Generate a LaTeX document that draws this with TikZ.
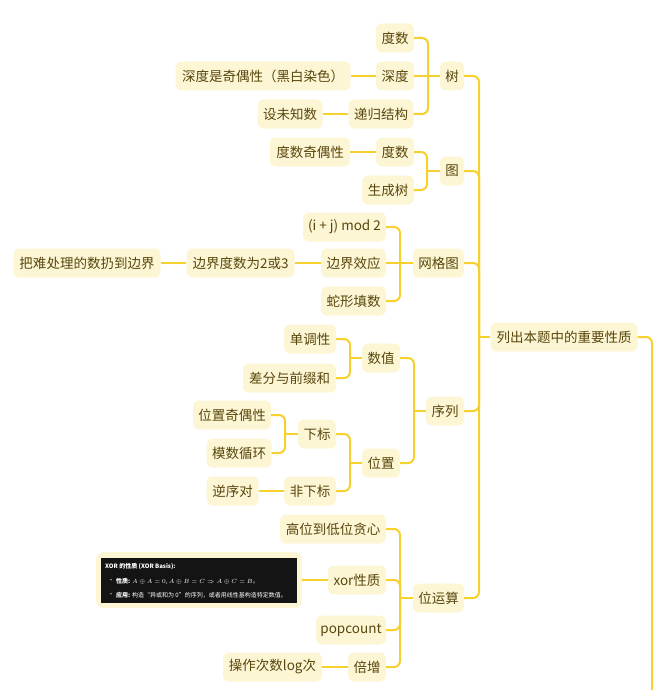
\documentclass[tikz,border=0pt]{standalone}
\usepackage{fontspec}
\setmainfont{Noto Sans CJK SC}
\definecolor{nodefill}{RGB}{253,246,213}
\definecolor{linec}{RGB}{246,208,44}
\definecolor{txt}{RGB}{88,70,12}
\definecolor{darkbg}{RGB}{20,20,20}
\tikzset{
  box/.style={fill=nodefill, rounded corners=6pt, text=txt, font=\fontsize{13.5}{16}\selectfont, minimum height=29pt, inner sep=0pt},
  conn/.style={draw=linec, line width=2pt, rounded corners=6pt},
  tiny/.style={text=white, font=\fontsize{6}{7}\selectfont, inner sep=0pt, anchor=west}
}
\begin{document}
\begin{tikzpicture}[x=1pt,y=-1pt]
\useasboundingbox (0,0) rectangle (668,690);
\clip (0,0) rectangle (668,690);
% root
\node[box, minimum width=147pt] (root) at (564,337) {列出本题中的重要性质};
% tree
\node[box, minimum width=24pt] (tr) at (452,76) {树};
\node[box, minimum width=38pt] (t1) at (395,38) {度数};
\node[box, minimum width=38pt] (t2) at (395,76) {深度};
\node[box, minimum width=175pt] (t2a) at (263,76) {深度是奇偶性（黑白染色）};
\node[box, minimum width=65pt] (t3) at (381,114) {递归结构};
\node[box, minimum width=65pt] (t3a) at (290,114) {设未知数};
% graph
\node[box, minimum width=24pt] (gr) at (452,171) {图};
\node[box, minimum width=38pt] (g1) at (395,152) {度数};
\node[box, minimum width=80pt] (g1a) at (310,152) {度数奇偶性};
\node[box, minimum width=52pt] (g2) at (388,190) {生成树};
% grid
\node[box, minimum width=51pt] (ng) at (438.5,263) {网格图};
\node[box, minimum width=83pt] (n1) at (344.5,227) {(i + j) mod 2};
\node[box, minimum width=65pt] (n2) at (353.5,263) {边界效应};
\node[box, minimum width=108pt] (n2a) at (240.6,263) {边界度数为2或3};
\node[box, minimum width=147pt] (n2b) at (87,263) {把难处理的数扔到边界};
\node[box, minimum width=65pt] (n3) at (353.5,301) {蛇形填数};
% sequence
\node[box, minimum width=38pt] (xl) at (445,411) {序列};
\node[box, minimum width=38pt] (s1) at (381,358) {数值};
\node[box, minimum width=52pt] (s1a) at (310,339) {单调性};
\node[box, minimum width=93pt] (s1b) at (289.5,378) {差分与前缀和};
\node[box, minimum width=38pt] (s2) at (381,463) {位置};
\node[box, minimum width=38pt] (s2a) at (317,434) {下标};
\node[box, minimum width=78pt] (s2a1) at (232,415) {位置奇偶性};
\node[box, minimum width=65pt] (s2a2) at (239,453) {模数循环};
\node[box, minimum width=52pt] (s2b) at (310,491) {非下标};
\node[box, minimum width=52pt] (s2b1) at (232.5,491) {逆序对};
% bit ops
\node[box, minimum width=51pt] (bw) at (438.5,598) {位运算};
\node[box, minimum width=106pt] (b1) at (333,529) {高位到低位贪心};
\node[box, minimum width=58pt] (b2) at (357,580) {xor性质};
\node[box, minimum width=70pt] (b3) at (351,630) {popcount};
\node[box, minimum width=38pt] (b4) at (367,667) {倍增};
\node[box, minimum width=99pt] (b4a) at (272.5,667) {操作次数log次};
\node[box, minimum width=206pt, minimum height=56pt, rounded corners=8pt] (img) at (199,580) {};
\fill[darkbg] (101,558) rectangle (297,603);
\node[tiny, font=\bfseries\fontsize{6}{7}\selectfont] (imt) at (105,567) {XOR 的性质 (XOR Basis):};
\node[tiny] (imb1) at (108,581) {•};
\node[tiny] (iml1) at (116,581) {\textbf{性质:} $A\oplus A=0$, $A\oplus B=C\Rightarrow A\oplus C=B$。};
\node[tiny] (imb2) at (108,595) {•};
\node[tiny] (iml2) at (116,595) {\textbf{应用:} 构造“异或和为 0”的序列，或者用线性基构造特定数值。};
% connectors: root
\draw[conn] (root.west) -- (479,337);
\draw[conn] (tr.east) -| (479,337);
\draw[conn] (gr.east) -| (479,337);
\draw[conn] (ng.east) -| (479,337);
\draw[conn] (xl.east) -| (479,337);
\draw[conn] (bw.east) -| (479,337);
\draw[conn] (root.east) -| (652,720);
% tree
\draw[conn] (tr.west) -- (t2.east);
\draw[conn] (t1.east) -| (428,76);
\draw[conn] (t3.east) -| (428,76);
\draw[conn] (t2.west) -- (t2a.east);
\draw[conn] (t3.west) -- (t3a.east);
% graph
\draw[conn] (gr.west) -- (427,171);
\draw[conn] (g1.east) -| (427,171);
\draw[conn] (g2.east) -| (427,171);
\draw[conn] (g1.west) -- (g1a.east);
% grid
\draw[conn] (ng.west) -- (n2.east);
\draw[conn] (n1.east) -| (400,263);
\draw[conn] (n3.east) -| (400,263);
\draw[conn] (n2.west) -- (n2a.east);
\draw[conn] (n2a.west) -- (n2b.east);
% sequence
\draw[conn] (xl.west) -- (414,411);
\draw[conn] (s1.east) -| (414,411);
\draw[conn] (s2.east) -| (414,411);
\draw[conn] (s1.west) -- (350,358);
\draw[conn] (s1a.east) -| (350,358);
\draw[conn] (s1b.east) -| (350,358);
\draw[conn] (s2.west) -- (350,463);
\draw[conn] (s2a.east) -| (350,463);
\draw[conn] (s2b.east) -| (350,463);
\draw[conn] (s2a.west) -- (285,434);
\draw[conn] (s2a1.east) -| (285,434);
\draw[conn] (s2a2.east) -| (285,434);
\draw[conn] (s2b.west) -- (s2b1.east);
% bit ops
\draw[conn] (bw.west) -- (400,598);
\draw[conn] (b1.east) -| (400,598);
\draw[conn] (b2.east) -| (400,598);
\draw[conn] (b3.east) -| (400,598);
\draw[conn] (b4.east) -| (400,598);
\draw[conn] (b2.west) -- (img.east);
\draw[conn] (b4.west) -- (b4a.east);
\end{tikzpicture}
\end{document}
